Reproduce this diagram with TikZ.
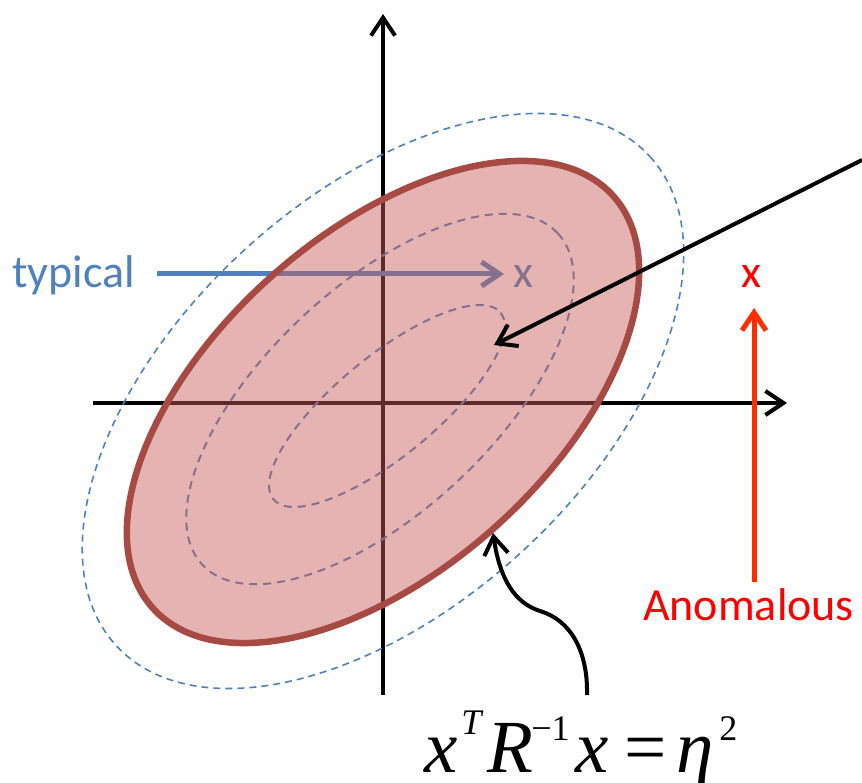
\documentclass[tikz,border=0pt]{standalone}
\usepackage{fontspec}
\setmainfont{Carlito}
\newfontfamily\eqfont{Liberation Serif}
\usetikzlibrary{arrows.meta}
\definecolor{offblue}{HTML}{4F81BD}
\definecolor{blobfill}{RGB}{199,94,90}
\definecolor{blobline}{RGB}{168,74,68}
\definecolor{anomred}{RGB}{255,0,0}
\definecolor{anomarrow}{RGB}{255,45,0}
\tikzset{
  axisline/.style={line width=4pt, black, -{Straight Barb[length=18pt,width=24pt]}},
  contour/.style={offblue, line width=1.6pt, dash pattern=on 7pt off 5pt},
  innercontour/.style={offblue, line width=2pt, dash pattern=on 8pt off 6pt},
  lbl/.style={inner sep=0pt, font=\fontsize{46}{50}\selectfont},
  ptr/.style={line width=4pt, -{Straight Barb[length=18pt,width=24pt]}},
}
\newcommand\supsc[2]{\raisebox{#1}{\fontsize{36}{40}\selectfont #2}}
\begin{document}
\begin{tikzpicture}[x=1pt,y=-1pt]
\useasboundingbox (0,0) rectangle (862,783);
% axes
\coordinate (yb) at (383,695);
\coordinate (yt) at (383,14);
\coordinate (xl) at (93,403);
\coordinate (xr) at (787,403);
\draw[axisline] (yb) -- (yt);
\draw[axisline] (xl) -- (xr);
% contours (under the fill)
\coordinate (c1) at (383,401);
\coordinate (c2) at (380,399);
\coordinate (c3) at (387,406);
\coordinate (c0) at (383,402);
\draw[contour, rotate around={42.5:(c1)}] (c1) ellipse [x radius=362, y radius=205];
\draw[innercontour, rotate around={43:(c2)}] (c2) ellipse [x radius=243, y radius=113];
\draw[innercontour, rotate around={39.4:(c3)}] (c3) ellipse [x radius=147, y radius=50];
% typical
\node[lbl, text=offblue, anchor=base west] (typ) at (12,288) {typical};
\node[lbl, text=offblue, anchor=base west] (tx) at (513,288) {x};
\coordinate (ts) at (157,274);
\coordinate (te) at (504,274);
\draw[offblue, line width=5pt, -{Straight Barb[length=18pt,width=24pt]}] (ts) -- (te);
% blob
\fill[blobfill, fill opacity=0.467, rotate around={41.8:(c0)}] (c0) ellipse [x radius=309, y radius=168];
\draw[blobline, line width=6.5pt, rotate around={41.8:(c0)}] (c0) ellipse [x radius=309, y radius=168];
% pointer into center
\coordinate (ps) at (862,160);
\coordinate (pe) at (494,345);
\draw[ptr, black] (ps) -- (pe);
% anomalous
\node[lbl, text=anomred, anchor=base west] (ax) at (741,288) {x};
\node[lbl, text=anomred, anchor=base west] (anom) at (643,620) {Anomalous};
\coordinate (as) at (754,582);
\coordinate (ae) at (754,308);
\draw[anomarrow, line width=5pt, -{Straight Barb[length=18pt,width=24pt]}] (as) -- (ae);
% equation
\node[inner sep=0pt, anchor=base west, font=\eqfont\fontsize{75}{80}\selectfont] (eq) at (424,772)
  {\itshape x\kern4pt\supsc{38pt}{T}\kern6pt R\kern-2pt\supsc{32pt}{\upshape −1}\kern6pt x\kern16pt{\upshape =}\kern9pt η\kern6pt\supsc{32pt}{\upshape 2}};
\coordinate (cs) at (587,695);
\coordinate (ce) at (493,533);
\draw[ptr, black] (cs) .. controls (588,650) and (570,620) .. (540,611) .. controls (515,603) and (500,580) .. (ce);
\end{tikzpicture}
\end{document}
